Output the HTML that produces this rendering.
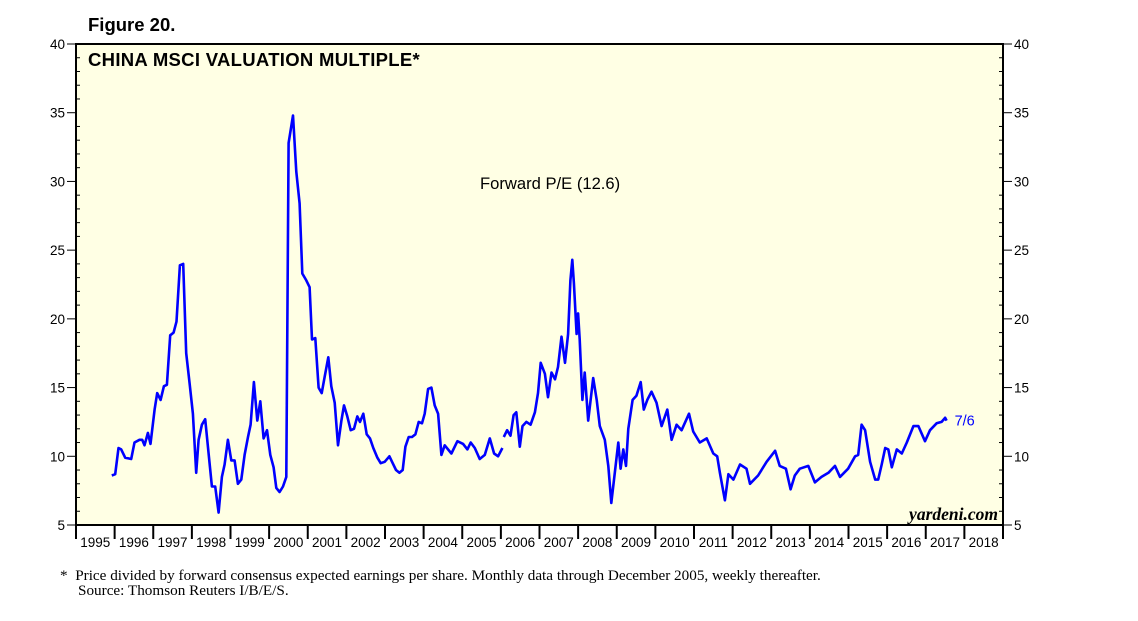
<!DOCTYPE html>
<html><head><meta charset="utf-8"><style>
body{margin:0;background:#fff;}
svg{display:block;font-family:"Liberation Sans",sans-serif;}
</style></head><body>
<svg id="chart" width="1138" height="621">
<text x="88" y="31" font-size="18.5" font-weight="bold">Figure 20.</text>
<rect x="76" y="44" width="927" height="481" fill="#ffffe4" stroke="#000" stroke-width="2"/>
<text x="88" y="66" font-size="18.5" font-weight="bold" letter-spacing="0.3">CHINA MSCI VALUATION MULTIPLE*</text>
<text x="480" y="189" font-size="16.6">Forward P/E (12.6)</text>
<text x="998" y="520" font-size="17.5" font-style="italic" font-weight="bold" text-anchor="end" font-family="Liberation Serif,serif">yardeni.com</text>
<g id="axes"></g>
<g id="series"></g>
<text x="60" y="580" font-size="15.2" font-family="Liberation Serif,serif">*&#160;&#160;Price divided by forward consensus expected earnings per share. Monthly data through December 2005, weekly thereafter.</text>
<text x="78" y="595" font-size="15.2" font-family="Liberation Serif,serif">Source: Thomson Reuters I/B/E/S.</text>
</svg>
<script>
const yTicks=[5,10,15,20,25,30,35,40];
const years=[1995,1996,1997,1998,1999,2000,2001,2002,2003,2004,2005,2006,2007,2008,2009,2010,2011,2012,2013,2014,2015,2016,2017,2018];
const monthlyDates=[0.928,1.015,1.101,1.17,1.274,1.429,1.515,1.645,1.714,1.774,1.861,1.93,2.034,2.103,2.189,2.275,2.353,2.439,2.526,2.603,2.69,2.776,2.854,2.94,3.027,3.113,3.173,3.26,3.346,3.433,3.519,3.605,3.692,3.778,3.847,3.933,4.02,4.106,4.192,4.279,4.365,4.452,4.521,4.607,4.693,4.771,4.857,4.944,5.03,5.116,5.185,5.272,5.358,5.445,5.505,5.617,5.704,5.79,5.859,5.963,6.049,6.11,6.196,6.282,6.36,6.438,6.533,6.61,6.697,6.783,6.87,6.939,7.025,7.111,7.198,7.284,7.353,7.439,7.526,7.612,7.698,7.802,7.889,7.992,8.113,8.199,8.286,8.372,8.458,8.527,8.614,8.7,8.787,8.873,8.959,9.028,9.115,9.201,9.287,9.374,9.46,9.546,9.719,9.874,10.021,10.134,10.22,10.324,10.453,10.583,10.712,10.825,10.928,11.04];
const monthlyValues=[8.6,8.7,10.6,10.5,9.9,9.8,11.0,11.2,11.2,10.8,11.7,10.9,13.4,14.6,14.1,15.1,15.2,18.8,19.0,19.8,23.9,24.0,17.5,15.3,13.1,8.8,11.2,12.3,12.7,10.2,7.8,7.8,5.9,8.5,9.4,11.2,9.7,9.7,8.0,8.3,10.1,11.4,12.3,15.4,12.6,14.0,11.3,11.9,10.1,9.2,7.7,7.4,7.8,8.5,32.8,34.8,30.7,28.4,23.3,22.8,22.3,18.5,18.6,15.0,14.6,15.8,17.2,15.1,13.9,10.8,12.6,13.7,12.9,11.9,12.0,12.9,12.5,13.1,11.6,11.3,10.6,9.9,9.5,9.6,10.0,9.5,9.0,8.8,9.0,10.7,11.4,11.4,11.6,12.5,12.4,13.1,14.9,15.0,13.7,13.1,10.1,10.8,10.2,11.1,10.9,10.5,11.0,10.6,9.8,10.1,11.3,10.2,10.0,10.6];
const weeklyDates=[11.075,11.16,11.25,11.33,11.40,11.49,11.56,11.66,11.77,11.88,11.96,12.03,12.14,12.22,12.31,12.40,12.48,12.57,12.66,12.74,12.80,12.85,12.89,12.96,13.0,13.04,13.11,13.17,13.26,13.39,13.48,13.56,13.69,13.78,13.86,13.95,14.04,14.10,14.17,14.24,14.30,14.41,14.51,14.62,14.70,14.79,14.90,15.03,15.16,15.31,15.42,15.55,15.68,15.87,15.98,16.15,16.33,16.50,16.60,16.67,16.80,16.89,17.02,17.19,17.36,17.45,17.66,17.88,18.10,18.22,18.38,18.50,18.61,18.74,18.96,19.13,19.30,19.48,19.65,19.78,19.99,20.17,20.25,20.34,20.43,20.56,20.69,20.77,20.86,20.95,21.03,21.12,21.25,21.38,21.51,21.68,21.81,21.98,22.11,22.28,22.41,22.50,22.54];
const weeklyValues=[11.4,11.9,11.5,13.0,13.2,10.7,12.2,12.5,12.3,13.2,14.6,16.8,16.0,14.3,16.1,15.6,16.5,18.7,16.8,18.9,22.8,24.3,22.6,18.9,20.4,18.5,14.1,16.1,12.6,15.7,14.1,12.2,11.2,9.3,6.6,8.8,11.0,9.1,10.5,9.3,12.0,14.1,14.4,15.4,13.4,14.1,14.7,13.9,12.2,13.4,11.2,12.3,11.9,13.1,11.8,11.0,11.3,10.2,10.0,8.8,6.8,8.7,8.3,9.4,9.1,8.0,8.6,9.6,10.4,9.3,9.1,7.6,8.6,9.1,9.3,8.1,8.5,8.8,9.3,8.5,9.1,10.0,10.1,12.3,11.9,9.6,8.3,8.3,9.4,10.6,10.5,9.2,10.5,10.2,11.0,12.2,12.2,11.1,11.9,12.4,12.5,12.8,12.6];
const lastLabel="7/6";

const NS="http://www.w3.org/2000/svg";
const L=76,R=1003,T=44,B=525;
const x=t=>L+(t-1995)/24*(R-L);
const y=v=>B-(v-5)/35*(B-T);
function mk(tag,at,parent){const e=document.createElementNS(NS,tag);for(const k in at)e.setAttribute(k,at[k]);parent.appendChild(e);return e;}
const ax=document.getElementById('axes');
for(let v=5;v<=40;v++){
  const yy=y(v);const major=yTicks.includes(v);
  const a=mk('line',{x1:major?L-9:L,x2:major?L:L+4,y1:yy,y2:yy,stroke:'#000','stroke-width':1},ax);
  
  const b=mk('line',{x1:major?R:R-4,x2:major?R+9:R,y1:yy,y2:yy,stroke:'#000','stroke-width':1},ax);
  
}
yTicks.forEach(v=>{
  const t1=mk('text',{x:L-11,y:y(v)+5,'font-size':13.5,'text-anchor':'end'},ax);t1.textContent=v;
  
  const t2=mk('text',{x:R+11,y:y(v)+5,'font-size':13.5},ax);t2.textContent=v;
  
});
years.forEach(yr=>{
  const s=mk('line',{x1:x(yr),x2:x(yr),y1:B,y2:B+14,stroke:'#000','stroke-width':2},ax);
  
  const t=mk('text',{x:x(yr+0.5),y:B+22,'font-size':13.5,'text-anchor':'middle'},ax);t.textContent=yr;
  
});
const e=mk('line',{x1:x(2019),x2:x(2019),y1:B,y2:B+14,stroke:'#000','stroke-width':2},ax);

const sg=document.getElementById('series');
function path(d,v,name){
  const p=mk('path',{d:d.map((t,i)=>(i?'L':'M')+x(1995+t).toFixed(1)+','+y(v[i]).toFixed(1)).join(''),fill:'none',stroke:'#0000ff','stroke-width':2.6,'stroke-linejoin':'round'},sg);
  
}
path(monthlyDates,monthlyValues,'monthly-pe-line');
path(weeklyDates,weeklyValues,'weekly-pe-line');
const n=weeklyDates.length-1;
const lt=mk('text',{x:x(1995+weeklyDates[n])+8,y:y(weeklyValues[n])+5,'font-size':14.5,fill:'#0000ff'},sg);
lt.textContent=lastLabel;


</script>
</body></html>
